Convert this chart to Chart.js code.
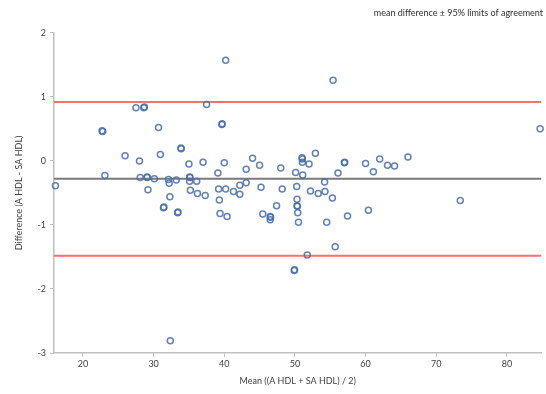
<!DOCTYPE html>
<html><head><meta charset="utf-8">
<script src="https://cdn.jsdelivr.net/npm/chart.js@4"></script>
<style>html,body{margin:0;padding:0;background:#fff}#wrap{width:546px;height:394px;position:relative}</style>
</head><body><div id="wrap"><canvas id="c"></canvas></div>
<script>
// Mean of the two methods (x) and their difference (y)
const meanValues = [
 16.1, 22.7, 22.8, 23.1, 25.96, 27.5, 28.6, 28.7, 28.0, 28.1,
 29.07, 29.1, 29.2, 30.1, 30.7, 30.95, 31.4, 31.45, 32.1, 32.2,
 32.3, 32.36, 33.2, 33.4, 33.45, 33.87, 33.9, 35.0, 35.1, 35.15,
 35.1, 35.2, 36.1, 36.2, 37.0, 37.3, 37.5, 39.1, 39.2, 39.3,
 39.4, 39.66, 39.7, 40.0, 40.2, 40.2, 40.4, 41.3, 42.2, 42.2,
 43.1, 43.1, 44.0, 45.0, 45.2, 45.45, 46.5, 46.55, 46.5, 47.4,
 48.0, 48.2, 49.9, 49.95, 50.1, 50.25, 50.3, 50.3, 50.35, 50.4,
 50.5, 51.0, 51.05, 51.05, 51.1, 51.75, 52.0, 52.2, 52.9, 53.3,
 54.2, 54.25, 54.5, 55.3, 55.4, 55.7, 56.1, 57.0, 57.05, 57.45,
 60.0, 60.4, 61.1, 62.0, 63.1, 64.1, 66.0, 73.4, 84.7
];
const diffValues = [
 -0.39, 0.47, 0.46, -0.23, 0.08, 0.83, 0.83, 0.84, 0.0, -0.26,
 -0.26, -0.25, -0.45, -0.28, 0.52, 0.10, -0.73, -0.72, -0.29, -0.35,
 -0.56, -2.81, -0.30, -0.81, -0.80, 0.20, 0.19, -0.05, -0.25, -0.26,
 -0.32, -0.46, -0.32, -0.51, -0.02, -0.54, 0.88, -0.19, -0.44, -0.61,
 -0.82, 0.57, 0.58, -0.03, 1.57, -0.44, -0.87, -0.48, -0.38, -0.52,
 -0.13, -0.34, 0.04, -0.07, -0.41, -0.83, -0.87, -0.88, -0.92, -0.70,
 -0.11, -0.44, -1.71, -1.70, -0.18, -0.40, -0.60, -0.70, -0.71, -0.81,
 -0.96, 0.05, 0.03, -0.02, -0.22, -1.47, -0.05, -0.47, 0.12, -0.51,
 -0.33, -0.48, -0.96, -0.58, 1.26, -1.34, -0.19, -0.03, -0.02, -0.86,
 -0.04, -0.77, -0.17, 0.03, -0.07, -0.08, 0.06, -0.62, 0.50
];
const meanDiff = -0.28;
const upperLoA = 0.92;
const lowerLoA = -1.48;
const xTicks = [20, 30, 40, 50, 60, 70, 80];
const yTicks = [-3, -2, -1, 0, 1, 2];
const xRange = [15.9, 84.9];
const yRange = [-3, 2];

const FONT = 'Lato, "Open Sans", sans-serif';
const pts = meanValues.map((x, i) => ({ x: x, y: diffValues[i] }));
const hline = v => [{ x: xRange[0], y: v }, { x: xRange[1], y: v }];

new Chart(document.getElementById('c'), {
  type: 'scatter',
  data: {
    datasets: [
      { label: 'Differences', data: pts, order: 1, clip: false,
        pointRadius: 3, pointHoverRadius: 3, pointBorderWidth: 1.5,
        pointBackgroundColor: 'rgba(255,255,255,0)', pointBorderColor: 'rgba(70,108,170,0.85)' },
      { type: 'line', label: 'Mean difference', data: hline(meanDiff), order: 2,
        borderColor: '#7a7a7a', borderWidth: 2, pointRadius: 0, fill: false },
      { type: 'line', label: 'Upper LoA', data: hline(upperLoA), order: 2,
        borderColor: '#ff6f6f', borderWidth: 2, pointRadius: 0, fill: false },
      { type: 'line', label: 'Lower LoA', data: hline(lowerLoA), order: 2,
        borderColor: '#ff6f6f', borderWidth: 2, pointRadius: 0, fill: false }
    ]
  },
  options: {
    responsive: true, maintainAspectRatio: false, animation: false,
    layout: { padding: { left: 0, right: 3, top: 0, bottom: 0 } },
    plugins: {
      legend: { display: false },
      tooltip: { enabled: false },
      title: { display: true, text: 'mean difference \u00b1 95% limits of agreement',
        align: 'end', color: '#303030', font: { family: FONT, size: 9, weight: 'normal' },
        padding: { top: 8, bottom: 14 } }
    },
    scales: {
      x: {
        type: 'linear', min: xRange[0], max: xRange[1],
        afterBuildTicks: s => { s.ticks = xTicks.map(v => ({ value: v })); },
        afterFit: s => { s.height = 41; },
        grid: { drawOnChartArea: false, drawTicks: true, tickLength: 4, color: '#bfbfbf' },
        border: { display: true, color: '#bfbfbf', width: 1.5 },
        ticks: { color: '#404040', font: { family: FONT, size: 9 }, padding: 2 },
        title: { display: true, text: 'Mean ((A HDL + SA HDL) / 2)', color: '#404040',
          font: { family: FONT, size: 9 }, padding: { top: 0, bottom: 8 } }
      },
      y: {
        type: 'linear', min: yRange[0], max: yRange[1],
        afterBuildTicks: s => { s.ticks = yTicks.map(v => ({ value: v })); },
        afterFit: s => { s.width = 54; },
        grid: { drawOnChartArea: false, drawTicks: true, tickLength: 4, color: '#bfbfbf' },
        border: { display: true, color: '#bfbfbf', width: 1.5 },
        ticks: { color: '#404040', font: { family: FONT, size: 9 }, padding: 4 },
        title: { display: true, text: 'Difference (A HDL - SA HDL)', color: '#404040',
          font: { family: FONT, size: 9 }, padding: { top: 14, bottom: 0 } }
      }
    }
  }
});
</script>
</body></html>
